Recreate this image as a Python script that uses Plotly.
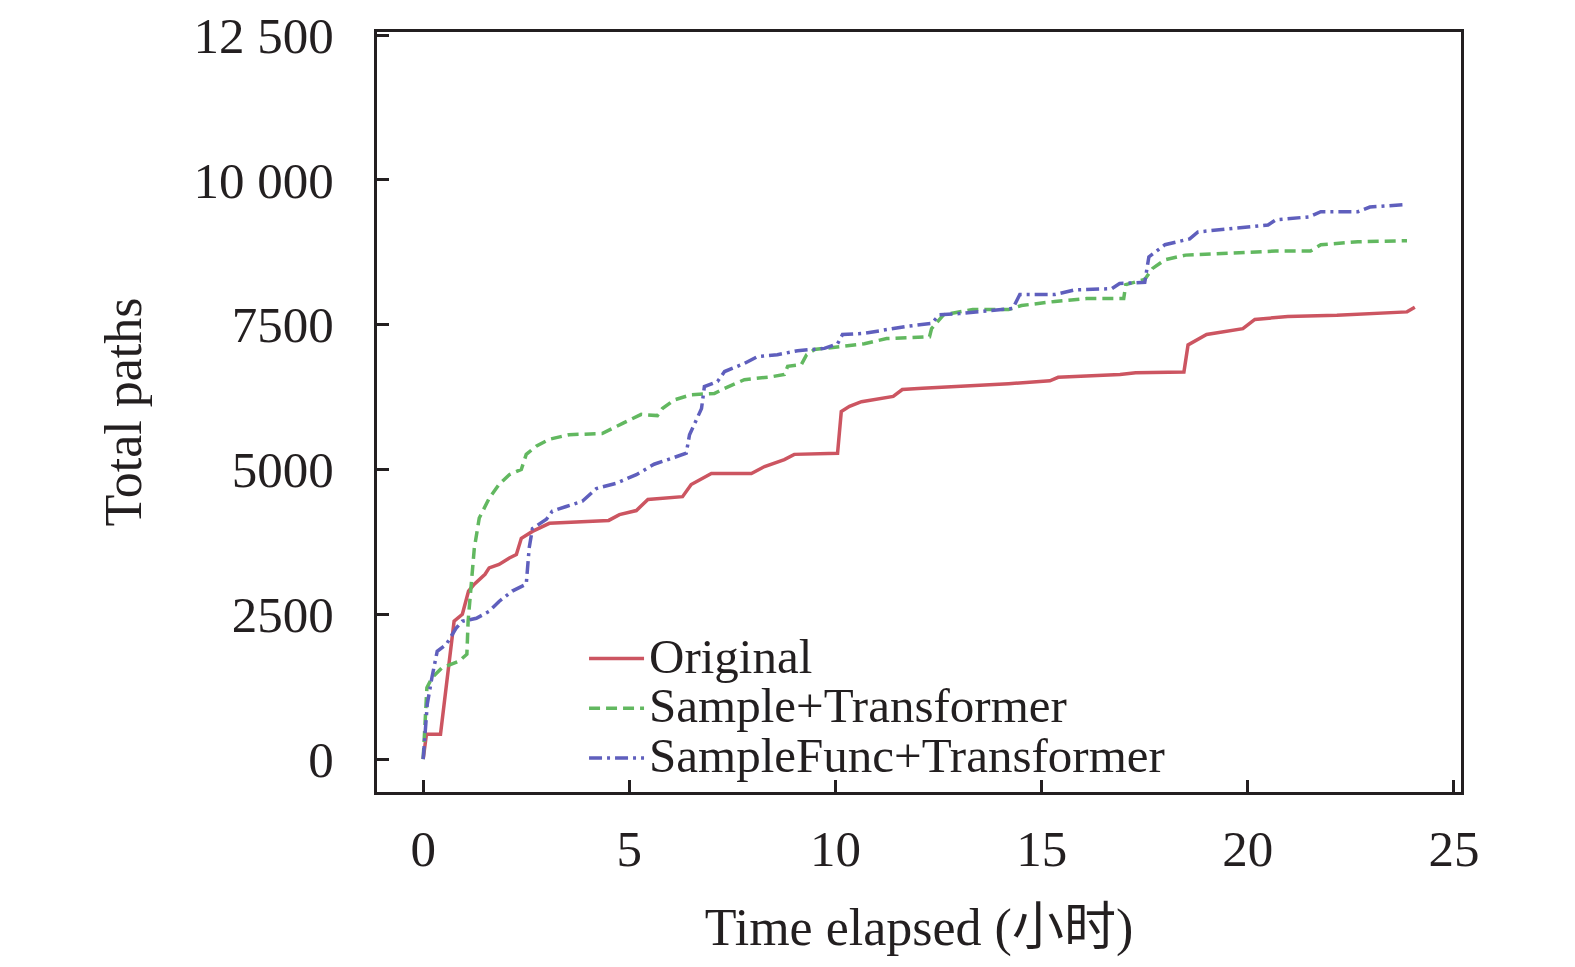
import plotly.graph_objs as go

# Series (hours elapsed vs. cumulative total paths)
orig_t = [0, 0.08, 0.42, 0.75, 0.95, 1.1, 1.24, 1.5, 1.6, 1.84, 2.09, 2.26, 2.38, 2.65, 3.06,
          4.5, 4.76, 5.17, 5.45, 6.29, 6.5, 6.99, 7.96, 8.28, 8.76, 9.0, 10.05, 10.14, 10.34,
          10.63, 11.4, 11.62, 12.11, 13.71, 14.2, 15.2, 15.4, 16.9, 17.28, 18.45, 18.55, 19.0,
          19.88, 20.17, 20.97, 22.16, 22.86, 23.86, 24.05]
orig_v = [0, 430, 430, 2380, 2500, 2900, 3020, 3190, 3300, 3360, 3470, 3530, 3810, 3930, 4070,
          4120, 4220, 4290, 4480, 4530, 4740, 4930, 4930, 5050, 5170, 5260, 5280, 6000, 6090,
          6170, 6260, 6380, 6400, 6450, 6480, 6530, 6590, 6640, 6670, 6680, 7150, 7330,
          7430, 7590, 7640, 7660, 7690, 7720, 7800]

samp_t = [0, 0.09, 0.21, 0.45, 0.87, 1.06, 1.09, 1.16, 1.24, 1.36, 1.6, 1.84, 2.09, 2.38, 2.5,
          2.74, 3.06, 3.54, 4.34, 4.85, 5.29, 5.68, 5.8, 6.09, 6.5, 7.06, 7.31, 7.79, 8.45,
          8.76, 8.84, 9.17, 9.3, 9.49, 10.05, 10.7, 11.24, 12.28, 12.33, 12.62, 13.33, 14.2,
          14.51, 15.32, 16.09, 16.99, 17.04, 17.5, 17.69, 17.99, 18.49, 19.68, 20.68, 21.52,
          21.77, 22.67, 23.86]
samp_v = [0, 1230, 1400, 1570, 1690, 1810, 2380, 2950, 3640, 4160, 4500, 4740, 4910, 5000, 5260,
          5400, 5520, 5600, 5620, 5800, 5950, 5930, 6050, 6200, 6290, 6310, 6400, 6550, 6600,
          6640, 6780, 6810, 6980, 7070, 7120, 7170, 7260, 7290, 7430, 7670, 7760, 7760,
          7830, 7900, 7950, 7950, 8190, 8280, 8470, 8620, 8700, 8740, 8770, 8770,
          8880, 8930, 8950]

func_t = [0, 0.1, 0.21, 0.34, 0.56, 0.8, 0.95, 1.29, 1.6, 1.84, 2.16, 2.5, 2.57, 2.65, 2.99,
          3.13, 3.47, 3.86, 4.2, 4.68, 5.17, 5.6, 6.02, 6.38, 6.46, 6.75, 6.82, 7.14, 7.31,
          7.79, 8.11, 8.59, 9.08, 9.73, 10.05, 10.17, 10.7, 11.36, 11.72, 12.33, 12.52, 13.0,
          14.3, 14.47, 15.32, 15.8, 16.7, 16.89, 17.5, 17.6, 17.99, 18.59, 18.79, 20.49,
          20.68, 21.48, 21.77, 22.67, 22.96, 23.76]
func_v = [0, 950, 1400, 1860, 1980, 2260, 2380, 2430, 2550, 2720, 2900, 3020, 3640, 3980, 4140,
          4280, 4360, 4450, 4670, 4760, 4910, 5090, 5190, 5280, 5600, 6050, 6430, 6520, 6690,
          6830, 6950, 6980, 7050, 7090, 7170, 7330, 7350, 7430, 7470, 7520, 7670, 7690,
          7780, 8020, 8020, 8100, 8120, 8210, 8230, 8670, 8880, 8980, 9100, 9220,
          9310, 9360, 9450, 9450, 9530, 9570]

series_names = ['Original', 'Sample+Transformer', 'SampleFunc+Transformer']

x_ticks = [0, 5, 10, 15, 20, 25]
y_ticks = [0, 2500, 5000, 7500, 10000, 12500]
y_tick_text = ['0', '2500', '5000', '7500', '10 000', '12 500']

serif = 'Liberation Serif, Times New Roman, Noto Sans CJK SC, serif'
ink = '#231f20'


def legend_label(name):
    # glyphs a bit taller than the legend row pitch, like the reference
    return f'<span style="font-size:49px">{name}</span>'


fig = go.Figure()

fig.add_trace(go.Scatter(
    x=orig_t, y=orig_v, mode='lines', name=legend_label(series_names[0]),
    line=dict(color='#cc5561', width=3.5),
))
fig.add_trace(go.Scatter(
    x=samp_t, y=samp_v, mode='lines', name=legend_label(series_names[1]),
    line=dict(color='#62b860', width=3.5, dash='11px,6px'),
))
fig.add_trace(go.Scatter(
    x=func_t, y=func_v, mode='lines', name=legend_label(series_names[2]),
    line=dict(color='#5f5fbd', width=3.5, dash='13px,5px,3px,5px'),
))

fig.update_layout(
    width=1575,
    height=967,
    margin=dict(l=369, r=122, t=24, b=183, pad=0),
    plot_bgcolor='white',
    paper_bgcolor='white',
    font=dict(family=serif, color=ink),
    showlegend=True,
    legend=dict(
        x=0.191, y=0.215, xanchor='left', yanchor='top',
        font=dict(family=serif, size=36, color=ink),
        bgcolor='rgba(0,0,0,0)', borderwidth=0,
        itemwidth=55, tracegroupgap=0,
    ),
)

fig.update_xaxes(
    range=[-1.12, 25.17],
    tickmode='array', tickvals=x_ticks,
    ticks='inside', ticklen=12, tickwidth=3, tickcolor=ink,
    showline=True, linewidth=3, linecolor=ink, mirror=True,
    showgrid=False, zeroline=False, automargin=False,
    tickfont=dict(family=serif, size=51, color=ink),
    ticklabelstandoff=10, ticklabeloverflow='allow',
    title=dict(text='Time elapsed (小时)', font=dict(family=serif, size=52, color=ink), standoff=33),
)

fig.update_yaxes(
    range=[-569, 12552],
    tickmode='array', tickvals=y_ticks, ticktext=y_tick_text,
    ticks='inside', ticklen=12, tickwidth=3, tickcolor=ink,
    showline=True, linewidth=3, linecolor=ink, mirror=True,
    showgrid=False, zeroline=False, automargin=False,
    tickfont=dict(family=serif, size=51, color=ink),
    ticklabelstandoff=30, ticklabeloverflow='allow',
    title=dict(text='Total paths', font=dict(family=serif, size=52, color=ink), standoff=36),
)

fig.write_html("out.html")
